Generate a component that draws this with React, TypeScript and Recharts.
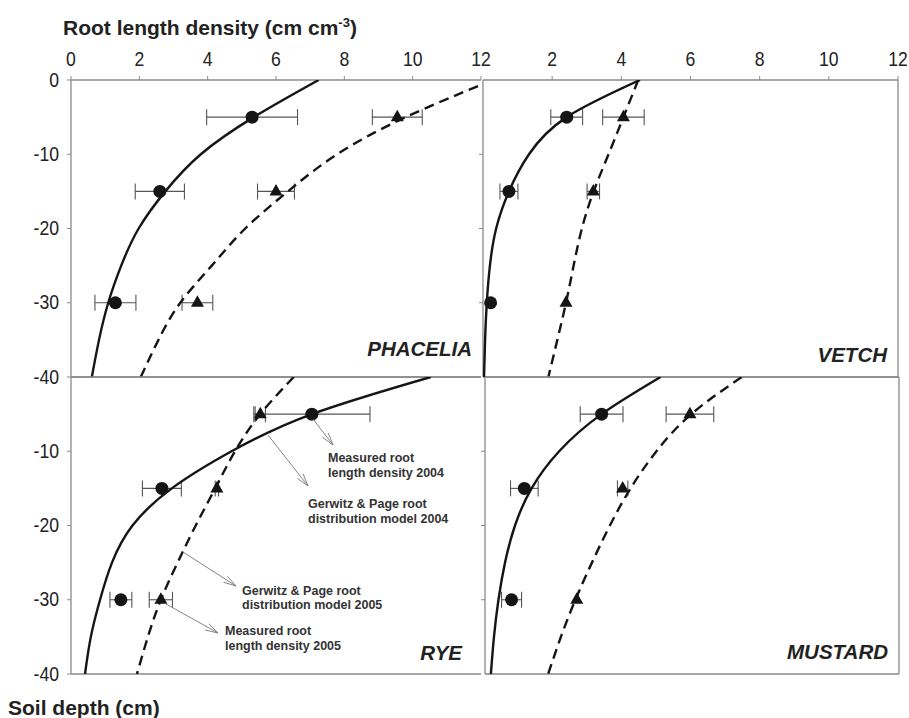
import React from "react";
import {
  ScatterChart,
  Scatter,
  XAxis,
  YAxis,
  ErrorBar,
  ReferenceLine,
} from "recharts";

const modelDepths = [0, -5, -10, -15, -20, -25, -30, -35, -40];
const measuredDepths = [-5, -15, -30];

const topTicksLeft = [0, 2, 4, 6, 8, 10, 12];
const topTicksRight = [2, 4, 6, 8, 10, 12];
const depthTicksTop = [0, -10, -20, -30, -40];
const depthTicksBottom = [-10, -20, -30, -40];
const innerDepthTicks = [-10, -20, -30];

// PHACELIA
const phaceliaModel2004 = [7.25, 5.35, 3.8, 2.76, 1.98, 1.47, 1.09, 0.82, 0.61];
const phaceliaModel2005 = [12.35, 9.8, 7.79, 6.35, 5.1, 4.12, 3.2, 2.56, 2.04];
const phaceliaMeas2004 = [5.3, 2.6, 1.3];
const phaceliaErr2004 = [1.33, 0.72, 0.6];
const phaceliaMeas2005 = [9.55, 6.0, 3.7];
const phaceliaErr2005 = [0.73, 0.54, 0.45];

// VETCH
const vetchModel2004 = [4.54, 2.42, 1.33, 0.75, 0.38, 0.2, 0.11, 0.06, 0.03];
const vetchModel2005 = [4.49, 4.06, 3.63, 3.2, 2.86, 2.62, 2.4, 2.15, 1.89];
const vetchMeas2004 = [2.42, 0.75, 0.22];
const vetchErr2004 = [0.46, 0.26, 0];
const vetchMeas2005 = [4.06, 3.19, 2.4];
const vetchErr2005 = [0.6, 0.18, 0];

// RYE
const ryeModel2004 = [10.53, 7.05, 4.7, 2.95, 1.8, 1.2, 0.85, 0.58, 0.41];
const ryeModel2005 = [6.52, 5.54, 4.8, 4.22, 3.65, 3.12, 2.63, 2.25, 1.93];
const ryeMeas2004 = [7.05, 2.66, 1.46];
const ryeErr2004 = [1.7, 0.57, 0.32];
const ryeMeas2005 = [5.54, 4.27, 2.63];
const ryeErr2005 = [0.15, 0.05, 0.34];

// MUSTARD
const mustardModel2004 = [5.09, 3.38, 2.15, 1.35, 0.87, 0.58, 0.39, 0.26, 0.17];
const mustardModel2005 = [7.44, 5.98, 4.97, 4.22, 3.62, 3.1, 2.62, 2.2, 1.83];
const mustardMeas2004 = [3.38, 1.14, 0.77];
const mustardErr2004 = [0.62, 0.4, 0.29];
const mustardMeas2005 = [5.94, 3.99, 2.66];
const mustardErr2005 = [0.69, 0.15, 0];

const AXIS = "#8a8a8a";
const INK = "#151515";
const SANS = "'Liberation Sans', Arial, sans-serif";

const curve = (vals: number[]) => modelDepths.map((d, i) => ({ rld: vals[i], depth: d }));
const points = (vals: number[], errs: number[]) =>
  measuredDepths.map((d, i) => ({ rld: vals[i], depth: d, err: errs[i] }));

const Dot = (p: any) => <circle cx={p.cx} cy={p.cy} r={6.5} fill={INK} />;
const Tri = (p: any) => (
  <polygon
    points={`${p.cx},${p.cy - 7.5} ${p.cx - 6.5},${p.cy + 4} ${p.cx + 6.5},${p.cy + 4}`}
    fill={INK}
  />
);
const NoShape = () => <g />;

// narrow-looking tick labels, like the original figure
const makeTick = (show: boolean) => (p: any) => {
  if (!show) return <g />;
  const dy = p.verticalAnchor === "end" ? 0 : 6.5;
  return (
    <text
      transform={`translate(${p.x},${p.y}) scale(0.88,1)`}
      textAnchor={p.textAnchor}
      dy={dy}
      fontSize={20}
      fill="#222"
      fontFamily={SANS}
    >
      {p.payload.value}
    </text>
  );
};

type PanelProps = {
  left: number;
  top: number;
  width: number;
  height: number;
  margin: { top: number; right: number; bottom: number; left: number };
  xTicks?: number[];
  yTicks: number[];
  yLabels: boolean;
  topLine: boolean;
  rightLine: boolean;
  m04: number[];
  m05: number[];
  p04: number[];
  e04: number[];
  p05: number[];
  e05: number[];
};

function Panel(props: PanelProps) {
  const { left, top, width, height, margin, xTicks, yTicks, yLabels } = props;
  return (
    <div style={{ position: "absolute", left, top, width, height }}>
      <ScatterChart width={width} height={height} margin={margin}>
        {xTicks ? (
          <XAxis
            type="number"
            dataKey="rld"
            domain={[0, 12]}
            allowDataOverflow
            orientation="top"
            ticks={xTicks}
            interval={0}
            height={30}
            tickSize={4}
            tickMargin={10}
            axisLine={{ stroke: AXIS, strokeWidth: 1.3 }}
            tickLine={{ stroke: AXIS }}
            tick={makeTick(true)}
          />
        ) : (
          <XAxis type="number" dataKey="rld" domain={[0, 12]} allowDataOverflow hide />
        )}
        <YAxis
          type="number"
          dataKey="depth"
          domain={[-40, 0]}
          allowDataOverflow
          ticks={yTicks}
          interval={0}
          width={40}
          tickSize={4}
          tickMargin={8}
          axisLine={{ stroke: AXIS, strokeWidth: 1.3 }}
          tickLine={{ stroke: AXIS }}
          tick={makeTick(yLabels)}
        />
        {props.rightLine && <ReferenceLine x={12} stroke={AXIS} strokeWidth={1.3} />}
        <ReferenceLine y={-40} stroke={AXIS} strokeWidth={1.3} />
        {props.topLine && <ReferenceLine y={0} stroke={AXIS} strokeWidth={1.3} />}
        <Scatter
          data={curve(props.m04)}
          line={{ stroke: INK, strokeWidth: 2.4 }}
          lineJointType="natural"
          shape={NoShape}
          isAnimationActive={false}
        />
        <Scatter
          data={curve(props.m05)}
          line={{ stroke: INK, strokeWidth: 2.4, strokeDasharray: "10 6" }}
          lineJointType="natural"
          shape={NoShape}
          isAnimationActive={false}
        />
        <Scatter data={points(props.p04, props.e04)} shape={Dot} isAnimationActive={false}>
          <ErrorBar dataKey="err" direction="x" width={8} stroke="#555" strokeWidth={1.1} isAnimationActive={false} />
        </Scatter>
        <Scatter data={points(props.p05, props.e05)} shape={Tri} isAnimationActive={false}>
          <ErrorBar dataKey="err" direction="x" width={8} stroke="#555" strokeWidth={1.1} isAnimationActive={false} />
        </Scatter>
      </ScatterChart>
    </div>
  );
}

function Arrow({ x1, y1, x2, y2 }: { x1: number; y1: number; x2: number; y2: number }) {
  const ang = Math.atan2(y2 - y1, x2 - x1);
  const len = 13;
  const spread = 0.28;
  const a = [x2 - len * Math.cos(ang - spread), y2 - len * Math.sin(ang - spread)];
  const b = [x2 - len * Math.cos(ang + spread), y2 - len * Math.sin(ang + spread)];
  return (
    <g stroke="#777" strokeWidth={0.9} fill="none">
      <line x1={x1} y1={y1} x2={x2} y2={y2} />
      <polyline points={`${a[0]},${a[1]} ${x2},${y2} ${b[0]},${b[1]}`} />
    </g>
  );
}

const noteStyle = { fontSize: 12.5, fontWeight: 700, fill: "#333", fontFamily: SANS };

export default function App() {
  return (
    <div style={{ position: "absolute", left: 0, top: 0, width: 909, height: 718, background: "#fff" }}>
      <Panel
        left={0}
        top={0}
        width={492}
        height={390}
        margin={{ top: 50, left: 31, right: 11, bottom: 13 }}
        xTicks={topTicksLeft}
        yTicks={depthTicksTop}
        yLabels
        topLine={false}
        rightLine={false}
        m04={phaceliaModel2004}
        m05={phaceliaModel2005}
        p04={phaceliaMeas2004}
        e04={phaceliaErr2004}
        p05={phaceliaMeas2005}
        e05={phaceliaErr2005}
      />
      <Panel
        left={440}
        top={0}
        width={470}
        height={390}
        margin={{ top: 50, left: 3, right: 12, bottom: 13 }}
        xTicks={topTicksRight}
        yTicks={innerDepthTicks}
        yLabels={false}
        topLine={false}
        rightLine
        m04={vetchModel2004}
        m05={vetchModel2005}
        p04={vetchMeas2004}
        e04={vetchErr2004}
        p05={vetchMeas2005}
        e05={vetchErr2005}
      />
      <Panel
        left={0}
        top={340}
        width={492}
        height={360}
        margin={{ top: 37, left: 31, right: 11, bottom: 26 }}
        yTicks={depthTicksBottom}
        yLabels
        topLine
        rightLine={false}
        m04={ryeModel2004}
        m05={ryeModel2005}
        p04={ryeMeas2004}
        e04={ryeErr2004}
        p05={ryeMeas2005}
        e05={ryeErr2005}
      />
      <Panel
        left={440}
        top={340}
        width={470}
        height={360}
        margin={{ top: 37, left: 5, right: 11, bottom: 26 }}
        yTicks={innerDepthTicks}
        yLabels={false}
        topLine
        rightLine
        m04={mustardModel2004}
        m05={mustardModel2005}
        p04={mustardMeas2004}
        e04={mustardErr2004}
        p05={mustardMeas2005}
        e05={mustardErr2005}
      />
      <svg
        width={909}
        height={718}
        style={{ position: "absolute", left: 0, top: 0, pointerEvents: "none" }}
      >
        <text x={63} y={35} fontSize={21} fontWeight={700} fill="#222" fontFamily={SANS}>
          Root length density (cm cm
          <tspan dy={-8} fontSize={13}>-3</tspan>
          <tspan dy={8}>)</tspan>
        </text>
        <text x={8} y={715} fontSize={21} fontWeight={700} fill="#222" fontFamily={SANS}>
          Soil depth (cm)
        </text>
        <g fontSize={20.5} fontWeight={700} fontStyle="italic" fill="#222" fontFamily={SANS}>
          <text x={472} y={356} textAnchor="end">PHACELIA</text>
          <text x={887} y={362} textAnchor="end">VETCH</text>
          <text x={462} y={660} textAnchor="end">RYE</text>
          <text x={888} y={659} textAnchor="end">MUSTARD</text>
        </g>
        <Arrow x1={313} y1={419} x2={333} y2={445} />
        <Arrow x1={268} y1={435} x2={308} y2={486} />
        <Arrow x1={183} y1={552} x2={236} y2={586} />
        <Arrow x1={166} y1={604} x2={218} y2={633} />
        <g>
          <text x={328} y={462} {...noteStyle}>Measured root</text>
          <text x={328} y={477} {...noteStyle}>length density 2004</text>
          <text x={308} y={508} {...noteStyle}>Gerwitz &amp; Page root</text>
          <text x={308} y={523} {...noteStyle}>distribution model 2004</text>
          <text x={242} y={595} {...noteStyle}>Gerwitz &amp; Page root</text>
          <text x={242} y={609} {...noteStyle}>distribution model 2005</text>
          <text x={225} y={635} {...noteStyle}>Measured root</text>
          <text x={225} y={650} {...noteStyle}>length density 2005</text>
        </g>
      </svg>
    </div>
  );
}
